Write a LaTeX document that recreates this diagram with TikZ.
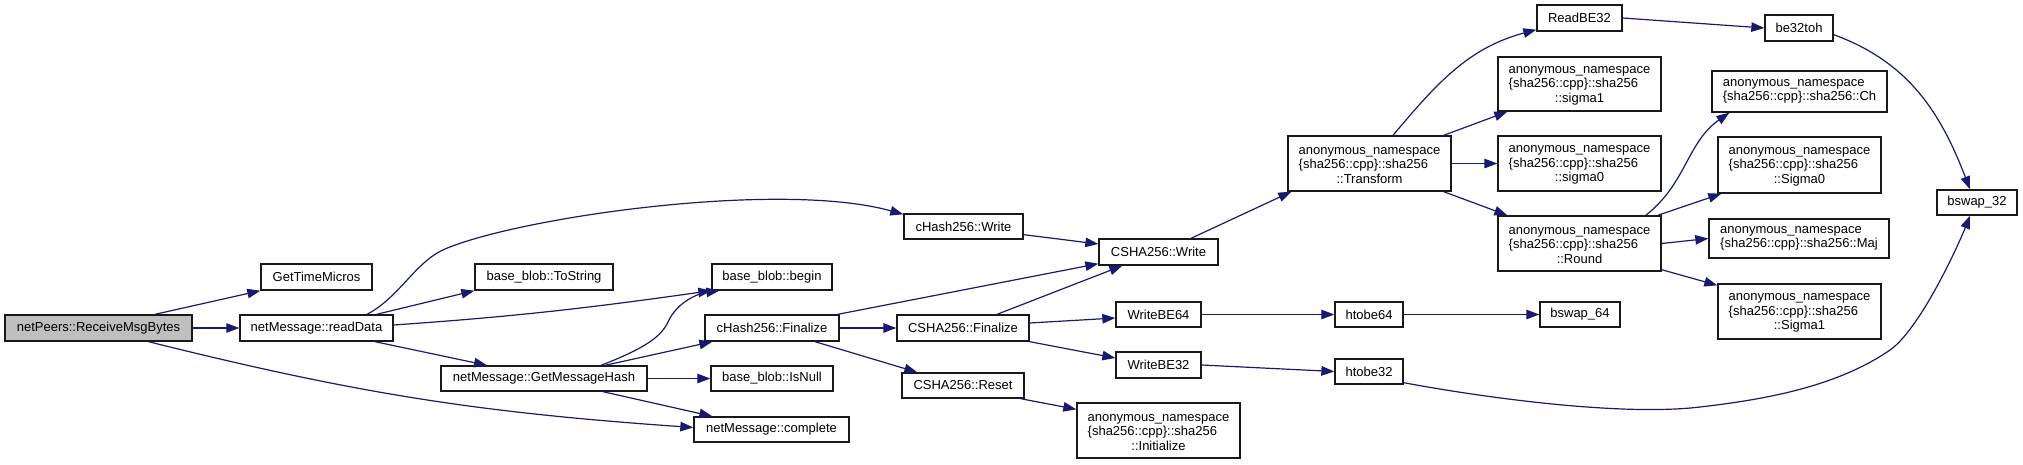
\documentclass[tikz,border=0pt]{standalone}
\usepackage{fontspec}
\setmainfont{Liberation Sans}
\usetikzlibrary{arrows.meta}
\definecolor{edgeblue}{HTML}{191970}
\definecolor{rootgray}{HTML}{BFBFBF}
\newcommand\anonthree[1]{\begin{tabular}[b]{@{}l@{}}anonymous\_namespace\\\{sha256::cpp\}::sha256\end{tabular}\\#1}
\tikzset{
  box/.style={draw=black!90, line width=1.35pt, fill=white, inner sep=0pt,
    font=\fontsize{13}{14.5}\selectfont, align=center},
  rootbox/.style={box, fill=rootgray},
  call/.style={draw=edgeblue, line width=1.2pt, -{Triangle[length=13pt,width=9.5pt]}}
}
\begin{document}
\begin{tikzpicture}[x=1pt,y=1pt]
\useasboundingbox (0,0) rectangle (2023,-464);
% nodes
\node[rootbox, minimum width=187pt, minimum height=26pt] (recv) at (98.5,-328) {netPeers::ReceiveMsgBytes};
\node[box, minimum width=111pt, minimum height=26pt] (gettime) at (316.5,-277) {GetTimeMicros};
\node[box, minimum width=153pt, minimum height=26pt] (readData) at (316.5,-328) {netMessage::readData};
\node[box, minimum width=138pt, minimum height=26pt] (tostring) at (544,-277) {base\_blob::ToString};
\node[box, minimum width=120pt, minimum height=26pt] (begin) at (772,-277) {base\_blob::begin};
\node[box, minimum width=134pt, minimum height=26pt] (chfin) at (772,-328) {cHash256::Finalize};
\node[box, minimum width=206pt, minimum height=25pt] (gmh) at (544,-378.5) {netMessage::GetMessageHash};
\node[box, minimum width=122pt, minimum height=25pt] (isnull) at (772,-378.5) {base\_blob::IsNull};
\node[box, minimum width=155pt, minimum height=25pt] (complete) at (771.5,-429.5) {netMessage::complete};
\node[box, minimum width=119pt, minimum height=25pt] (chwrite) at (963.5,-226.5) {cHash256::Write};
\node[box, minimum width=119pt, minimum height=26pt] (cswrite) at (1158.5,-252) {CSHA256::Write};
\node[box, minimum width=132pt, minimum height=26pt] (csfin) at (963,-328) {CSHA256::Finalize};
\node[box, minimum width=85pt, minimum height=25pt] (wbe64) at (1158.5,-314.5) {WriteBE64};
\node[box, minimum width=85pt, minimum height=26pt] (wbe32) at (1158.5,-365) {WriteBE32};
\node[box, minimum width=122pt, minimum height=25pt] (csreset) at (963,-385.5) {CSHA256::Reset};
\node[box, minimum width=163pt, minimum height=55pt] (init) at (1158.5,-430.5) {\anonthree{::Initialize}};
\node[box, minimum width=163pt, minimum height=55pt] (transform) at (1369.5,-163.5) {\anonthree{::Transform}};
\node[box, minimum width=85pt, minimum height=26pt] (readbe32) at (1579.5,-18) {ReadBE32};
\node[box, minimum width=163pt, minimum height=54pt] (sigma1) at (1579.5,-84) {\anonthree{::sigma1}};
\node[box, minimum width=163pt, minimum height=55pt] (sigma0) at (1579.5,-163.5) {\anonthree{::sigma0}};
\node[box, minimum width=163pt, minimum height=55pt] (round) at (1579.5,-243.5) {\anonthree{::Round}};
\node[box, minimum width=68pt, minimum height=25pt] (htobe64) at (1369,-314.5) {htobe64};
\node[box, minimum width=68pt, minimum height=25pt] (htobe32) at (1369,-371.5) {htobe32};
\node[box, minimum width=80pt, minimum height=25pt] (bswap64) at (1580,-314.5) {bswap\_64};
\node[box, minimum width=68pt, minimum height=26pt] (be32toh) at (1799,-28) {be32toh};
\node[box, align=left, minimum width=175pt, minimum height=41pt] (ch) at (1799.5,-91.5) {anonymous\_namespace\\\{sha256::cpp\}::sha256::Ch};
\node[box, minimum width=163pt, minimum height=56pt] (bigsigma0) at (1799.5,-165) {\anonthree{::Sigma0}};
\node[box, align=left, minimum width=180pt, minimum height=39pt] (maj) at (1799,-238.5) {anonymous\_namespace\\\{sha256::cpp\}::sha256::Maj};
\node[box, minimum width=163pt, minimum height=55pt] (bigsigma1) at (1799.5,-311.5) {\anonthree{::Sigma1}};
\node[box, minimum width=80pt, minimum height=25pt] (bswap32) at (1977,-202.5) {bswap\_32};
% connectors
\draw[call] ([xshift=56.5pt]recv.north) -- (gettime.south west);
\draw[call] (recv.east) -- (readData.west);
\draw[call] ([xshift=50pt]recv.south) to[out=-14,in=176] ([yshift=2pt]complete.west);
\draw[call] ([xshift=50.5pt]readData.north) .. controls (400,-297) and (415,-261.8) .. (445,-249)
  .. controls (520,-217) and (780,-180) .. ([yshift=-1pt]chwrite.north west);
\draw[call] ([xshift=60pt]readData.north) -- (tostring.south west);
\draw[call] ([yshift=3pt]readData.east) to[out=4,in=188] (begin.south west);
\draw[call] ([xshift=58.5pt]readData.south) -- ([xshift=-57pt]gmh.north);
\draw[call] ([xshift=57pt]gmh.north) .. controls (635,-352) and (660,-340) .. (668,-322)
  .. controls (676,-304) and (695,-294) .. ([xshift=8pt]begin.south west);
\draw[call] ([xshift=61pt]gmh.north) -- ([xshift=8pt]chfin.south west);
\draw[call] (gmh.east) -- (isnull.west);
\draw[call] ([xshift=59pt]gmh.south) -- ([xshift=19pt]complete.north west);
\draw[call] ([xshift=-2pt]chfin.north east) -- ([yshift=2pt]cswrite.south west);
\draw[call] (chfin.east) -- (csfin.west);
\draw[call] ([xshift=43pt]chfin.south) -- ([xshift=16pt]csreset.north west);
\draw[call] ([yshift=5pt]chwrite.south east) -- ([yshift=8pt]cswrite.west);
\draw[call] ([xshift=34pt]csfin.north) -- ([xshift=24pt]cswrite.south west);
\draw[call] ([yshift=5pt]csfin.east) -- ([yshift=-3.5pt]wbe64.west);
\draw[call] (csfin.south east) -- ([yshift=7pt]wbe32.west);
\draw[call] ([xshift=-4pt]csreset.south east) -- ([yshift=-7pt]init.north west);
\draw[call] ([xshift=32.5pt]cswrite.north) -- ([xshift=4pt]transform.south west);
\draw[call] (wbe64.east) -- (htobe64.west);
\draw[call] (wbe32.east) -- (htobe32.west);
\draw[call] ([xshift=23.5pt]transform.north) to[out=50,in=195] ([yshift=2pt]readbe32.south west);
\draw[call] ([xshift=-8pt]transform.north east) -- ([xshift=10pt]sigma1.south west);
\draw[call] (transform.east) -- (sigma0.west);
\draw[call] ([xshift=-8pt]transform.south east) -- ([xshift=10pt]round.north west);
\draw[call] (readbe32.east) -- (be32toh.west);
\draw[call] ([yshift=7pt]be32toh.south east) to[out=-20,in=111] ([xshift=-7pt]bswap32.north);
\draw[call] ([xshift=-16pt]round.north east) to[out=38,in=215] ([xshift=18pt]ch.south west);
\draw[call] ([xshift=-4pt]round.north east) -- ([xshift=4pt]bigsigma0.south west);
\draw[call] (round.east) -- (maj.west);
\draw[call] ([yshift=2pt]round.south east) -- ([yshift=-2pt]bigsigma1.north west);
\draw[call] ([yshift=2pt]htobe32.south east) .. controls (1480,-397) and (1620,-416.6) .. (1700,-407)
  .. controls (1760,-400) and (1835,-388) .. (1890,-350)
  .. controls (1920,-329) and (1958,-246) .. ([xshift=-7pt]bswap32.south);
\draw[call] (htobe64.east) -- (bswap64.west);
\end{tikzpicture}
\end{document}
